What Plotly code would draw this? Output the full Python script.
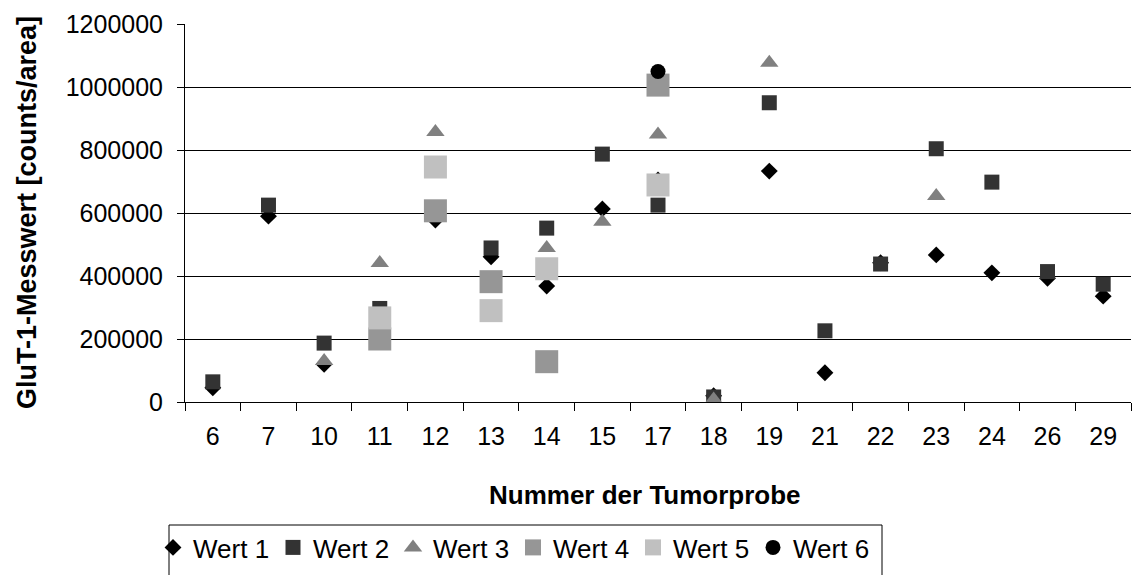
import plotly.graph_objects as go

categories = ["6", "7", "10", "11", "12", "13", "14", "15", "17", "18", "19", "21", "22", "23", "24", "26", "29"]

wert1 = [45000, 590000, 120000, 265000, 578000, 461000, 368000, 613000, 705000, 20000, 733000, 93000, 442000, 467000, 410000, 393000, 336000]
wert2 = [64000, 625000, 187000, 297000, 605000, 489000, 552000, 787000, 625000, 16000, 950000, 226000, 438000, 804000, 698000, 414000, 374000]
wert3 = [None, None, 130000, 441000, 857000, None, 489000, 572000, 849000, 8000, 1077000, None, None, 654000, None, None, None]
wert4 = [None, None, None, 200000, 607000, 382000, 128000, None, 1006000, None, None, None, None, None, None, None, None]
wert5 = [None, None, None, 267000, 746000, 290000, 423000, None, 689000, None, None, None, None, None, None, None, None]
wert6 = [None, None, None, None, None, None, None, None, 1049000, None, None, None, None, None, None, None, None]

series = [
    ("Wert 1", wert1, "diamond", "#000000", 13),
    ("Wert 2", wert2, "square", "#333333", 15),
    ("Wert 3", wert3, "triangle-up", "#808080", 16),
    ("Wert 4", wert4, "square", "#969696", 23),
    ("Wert 5", wert5, "square", "#C0C0C0", 23),
    ("Wert 6", wert6, "circle", "#000000", 15),
]

FONT = "Liberation Sans, Arial, sans-serif"

fig = go.Figure()
for name, vals, sym, col, size in series:
    fig.add_trace(go.Scatter(
        x=categories, y=vals, name=name, mode="markers",
        marker=dict(symbol=sym, color=col, size=size, line=dict(width=0)),
    ))

# plot area in pixels: x 185..1131, y 24..402
L, R, T, B = 185, 1131, 24, 402
W, H = 1133, 575
pw, ph = R - L, B - T

def px(xp):
    return (xp - L) / pw

def py(yp):
    return (B - yp) / ph

fig.update_layout(
    width=W, height=H,
    margin=dict(l=L, r=W - R, t=T, b=H - B, pad=0),
    paper_bgcolor="white", plot_bgcolor="white",
    font=dict(family=FONT, color="#000000"),
    showlegend=True,
    legend=dict(
        orientation="h", x=px(153), y=py(524), xanchor="left", yanchor="top",
        font=dict(family=FONT, size=26, color="#000000"),
        bgcolor="rgba(0,0,0,0)", borderwidth=0,
        entrywidth=75, entrywidthmode="pixels",
    ),
    xaxis=dict(
        type="category", categoryorder="array", categoryarray=categories,
        range=[-0.5, len(categories) - 0.5],
        showline=True, linecolor="#000000", linewidth=1,
        ticks="outside", tickson="boundaries", ticklen=8, tickcolor="#000000", tickwidth=1,
        tickfont=dict(family=FONT, size=25, color="#000000"),
        ticklabelstandoff=12,
        showgrid=False, zeroline=False,
    ),
    yaxis=dict(
        range=[0, 1200000], dtick=200000, tick0=0,
        tickformat="d",
        showline=True, linecolor="#000000", linewidth=1,
        ticks="outside", ticklen=7, tickcolor="#000000", tickwidth=1,
        tickfont=dict(family=FONT, size=25, color="#000000"),
        ticklabelstandoff=9,
        showgrid=True, gridcolor="#000000", gridwidth=1,
        zeroline=False,
    ),
    annotations=[
        dict(text="Nummer der Tumorprobe", xref="paper", yref="paper",
             x=px(645), y=py(495), xanchor="center", yanchor="middle", showarrow=False,
             font=dict(family=FONT, size=26, color="#000000", weight="bold")),
        dict(text="GluT-1-Messwert [counts/area]", xref="paper", yref="paper",
             x=px(27), y=py(213), xanchor="center", yanchor="middle", showarrow=False,
             textangle=-90,
             font=dict(family=FONT, size=27, color="#000000", weight="bold")),
    ],
    shapes=[
        dict(type="rect", xref="paper", yref="paper",
             x0=px(169), x1=px(882), y0=py(525), y1=py(700),
             line=dict(color="#000000", width=1), fillcolor="rgba(0,0,0,0)", layer="below"),
    ],
)

fig.write_html("out.html")
